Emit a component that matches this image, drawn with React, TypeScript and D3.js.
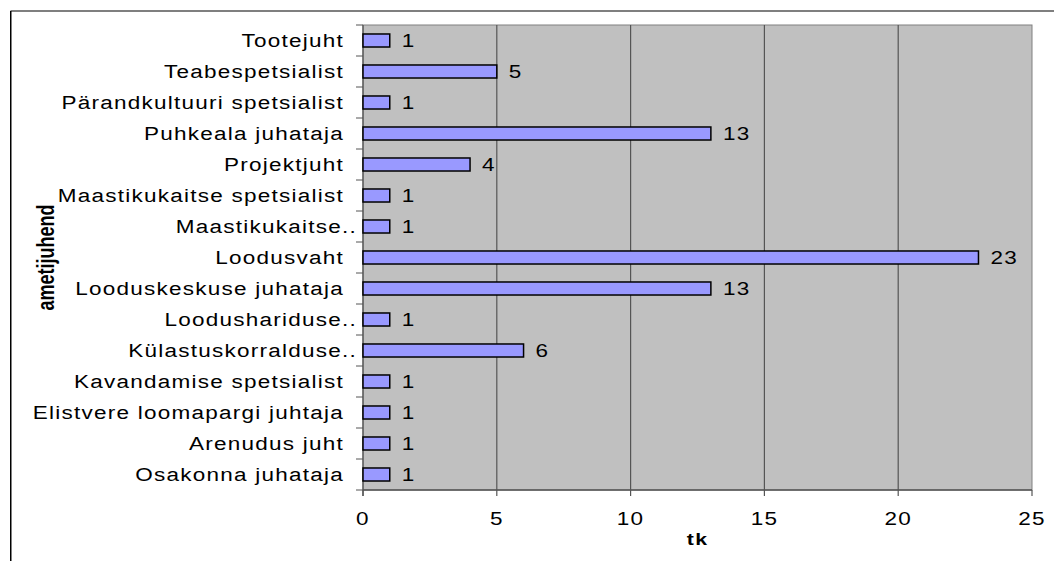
import React from "react";
import * as d3 from "d3";

const categories = [
  "Tootejuht",
  "Teabespetsialist",
  "Pärandkultuuri spetsialist",
  "Puhkeala juhataja",
  "Projektjuht",
  "Maastikukaitse spetsialist",
  "Maastikukaitse..",
  "Loodusvaht",
  "Looduskeskuse juhataja",
  "Loodushariduse..",
  "Külastuskorralduse..",
  "Kavandamise spetsialist",
  "Elistvere loomapargi juhtaja",
  "Arenudus juht",
  "Osakonna juhataja",
];
const values = [1, 5, 1, 13, 4, 1, 1, 23, 13, 1, 6, 1, 1, 1, 1];
const xTicks = [0, 5, 10, 15, 20, 25];
const xTitle = "tk";
const yTitle = "ametijuhend";

const W = 1054;
const H = 561;
const plot = { left: 363, top: 25, right: 1032, bottom: 490 };
const SX = 1.25;
const FS = 18;
const LS = 1;
const FONT = "'Liberation Sans', Arial, sans-serif";

export default function App() {
  const x = d3.scaleLinear().domain([0, 25]).range([plot.left, plot.right]);
  const y = d3
    .scaleBand<string>()
    .domain(categories)
    .range([plot.top, plot.bottom])
    .paddingInner(0.58)
    .paddingOuter(0.29);
  const band = d3.scaleBand<string>().domain(categories).range([plot.top, plot.bottom]);

  return (
    <svg
      width={W}
      height={H}
      style={{ position: "absolute", left: 0, top: 0, display: "block", background: "#fff" }}
    >
      {/* outer frame */}
      <line x1={10.5} y1={11} x2={W} y2={11} stroke="#000" strokeWidth={1.2} />
      <line x1={10.75} y1={11} x2={10.75} y2={H} stroke="#000" strokeWidth={1.5} />

      {/* plot background */}
      <rect
        x={plot.left}
        y={plot.top}
        width={plot.right - plot.left}
        height={plot.bottom - plot.top}
        fill="#c0c0c0"
        stroke="#808080"
        strokeWidth={1}
      />

      {/* gridlines */}
      {xTicks.slice(1, -1).map((t) => (
        <line
          key={"g" + t}
          x1={x(t)}
          x2={x(t)}
          y1={plot.top}
          y2={plot.bottom}
          stroke="#555"
          strokeWidth={1.2}
        />
      ))}

      {/* axes */}
      <line x1={plot.left} x2={plot.left} y1={plot.top} y2={plot.bottom + 6} stroke="#555" strokeWidth={1.3} />
      <line x1={plot.left} x2={plot.right} y1={plot.bottom} y2={plot.bottom} stroke="#555" strokeWidth={1.3} />
      {categories.map((c) => (
        <line
          key={"yt" + c}
          x1={plot.left - 7}
          x2={plot.left}
          y1={band(c)!}
          y2={band(c)!}
          stroke="#555"
          strokeWidth={1}
        />
      ))}
      <line x1={plot.left - 7} x2={plot.left} y1={plot.bottom} y2={plot.bottom} stroke="#555" strokeWidth={1} />
      {xTicks.map((t) => (
        <g key={"xt" + t}>
          <line x1={x(t)} x2={x(t)} y1={plot.bottom} y2={plot.bottom + 6} stroke="#555" strokeWidth={1.2} />
          <text
            transform={`translate(${x(t)},${525}) scale(${SX},1)`}
            textAnchor="middle"
            fontFamily={FONT}
            fontSize={FS}
            letterSpacing={LS}
            fill="#000"
          >
            {t}
          </text>
        </g>
      ))}

      {/* bars */}
      {categories.map((c, i) => (
        <rect
          key={"b" + c}
          x={x(0)}
          y={y(c)!}
          width={x(values[i]) - x(0)}
          height={y.bandwidth()}
          fill="#9999ff"
          stroke="#000"
          strokeWidth={1.5}
        />
      ))}

      {/* value labels */}
      {categories.map((c, i) => (
        <text
          key={"v" + c}
          transform={`translate(${x(values[i]) + 12},${band(c)! + band.bandwidth() / 2 + 6.5}) scale(${SX},1)`}
          fontFamily={FONT}
          fontSize={FS}
          letterSpacing={LS}
          fill="#000"
        >
          {values[i]}
        </text>
      ))}

      {/* category labels */}
      {categories.map((c) => (
        <text
          key={"c" + c}
          transform={`translate(${c.endsWith("..") ? 357 : 344},${band(c)! + band.bandwidth() / 2 + 6.5}) scale(${SX},1)`}
          textAnchor="end"
          fontFamily={FONT}
          fontSize={FS}
          letterSpacing={LS}
          fill="#000"
        >
          {c}
        </text>
      ))}

      {/* axis titles */}
      <text
        transform={`translate(${(plot.left + plot.right) / 2},545) scale(${SX},1)`}
        textAnchor="middle"
        fontFamily={FONT}
        fontWeight="bold"
        fontSize={17}
        letterSpacing={LS}
        fill="#000"
      >
        {xTitle}
      </text>
      <text
        transform={`translate(54,${(plot.top + plot.bottom) / 2}) scale(1.3,1) rotate(-90)`}
        textAnchor="middle"
        fontFamily={FONT}
        fontWeight="bold"
        fontSize={18}
        fill="#000"
      >
        {yTitle}
      </text>
    </svg>
  );
}
